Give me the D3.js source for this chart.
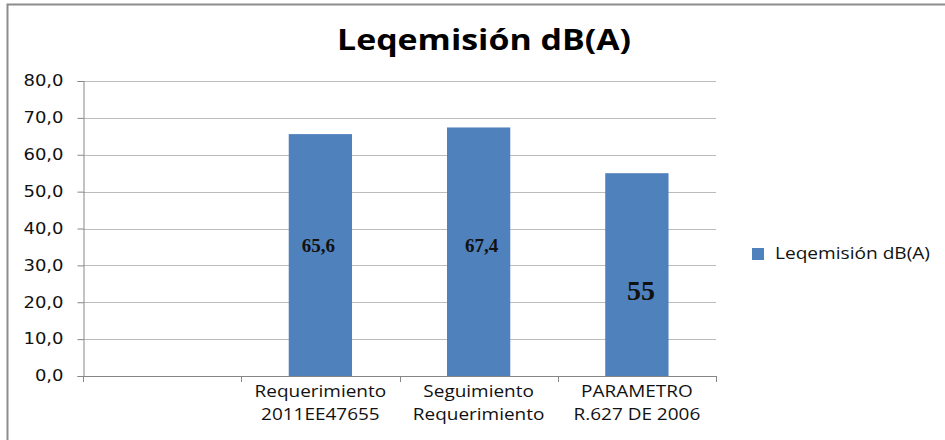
<!DOCTYPE html>
<html>
<head>
<meta charset="utf-8">
<script src="https://cdn.jsdelivr.net/npm/d3@7"></script>
<style>
  body { margin: 0; background: #fff; }
  svg { display: block; }
</style>
</head>
<body>
<script>
var width = 945,
  height = 440;

// data
const categorias = ["", "Requerimiento\n2011EE47655", "Seguimiento\nRequerimiento", "PARAMETRO\nR.627 DE 2006"];
const valores = [null, 65.6, 67.4, 55];
const etiquetas = ["", "65,6", "67,4", "55"];
const ticksY = [0, 10, 20, 30, 40, 50, 60, 70, 80];
const serie = "Leqemisión dB(A)";

const svg = d3
  .select("body")
  .append("svg")
  .attr("width", width)
  .attr("height", height);

// the original picture is a bit stretched sideways
function estirar(sel, k) {
  sel.each(function () {
    const w = this.getComputedTextLength();
    d3.select(this).attr("textLength", w * k).attr("lengthAdjust", "spacingAndGlyphs");
  });
}

// marco del gráfico (se sale por la derecha y abajo)
svg.append("rect")
  .attr("x", 7.5).attr("y", 4.5)
  .attr("width", 960).attr("height", 460)
  .attr("fill", "#fff")
  .attr("stroke", "#8c8c8c")
  .attr("stroke-width", 2);

const plot = { left: 83, right: 716, top: 81, bottom: 376 };

const y = d3.scaleLinear().domain([0, 80]).range([plot.bottom, plot.top]);
const xCat = d3.scaleBand().domain(d3.range(categorias.length)).range([plot.left, plot.right]);
const xBar = d3.scaleBand().domain(d3.range(categorias.length)).range([plot.left, plot.right])
  .paddingInner(0.6).paddingOuter(0.3);

// gridlines
svg.append("g")
  .selectAll("line")
  .data(ticksY.slice(1))
  .enter()
  .append("line")
  .attr("x1", plot.left).attr("x2", plot.right)
  .attr("y1", d => Math.round(y(d)) + 0.5).attr("y2", d => Math.round(y(d)) + 0.5)
  .attr("stroke", "#bcbcbc");

// eje Y
const yAxis = svg.append("g")
  .attr("transform", `translate(${plot.left + 0.5},0)`)
  .call(d3.axisLeft(y).tickValues(ticksY).tickSize(6).tickPadding(14)
    .tickFormat(d => d3.format(".1f")(d).replace(".", ",")));
yAxis.select(".domain").attr("stroke", "#868686");
yAxis.selectAll(".tick line").attr("stroke", "#868686");
yAxis.selectAll(".tick text")
  .attr("font-family", "DejaVu Sans")
  .attr("font-size", 15)
  .attr("fill", "#111");
estirar(yAxis.selectAll(".tick text"), 1.2);

// barras
svg.append("g")
  .selectAll("rect")
  .data(valores.map((v, i) => ({ v, i })).filter(d => d.v != null))
  .enter()
  .append("rect")
  .attr("x", d => xBar(d.i))
  .attr("width", xBar.bandwidth())
  .attr("y", d => y(d.v))
  .attr("height", d => y(0) - y(d.v))
  .attr("fill", "#4f81bd");

// eje X
const xg = svg.append("g");
xg.append("line")
  .attr("x1", plot.left).attr("x2", plot.right)
  .attr("y1", plot.bottom + 0.5).attr("y2", plot.bottom + 0.5)
  .attr("stroke", "#868686");
xg.selectAll(".tk")
  .data(d3.range(categorias.length + 1))
  .enter()
  .append("line")
  .attr("class", "tk")
  .attr("x1", i => Math.round(plot.left + i * xCat.step()) + 0.5)
  .attr("x2", i => Math.round(plot.left + i * xCat.step()) + 0.5)
  .attr("y1", plot.bottom).attr("y2", plot.bottom + 6)
  .attr("stroke", "#868686");

const catText = xg.selectAll(".cat")
  .data(categorias)
  .enter()
  .append("text")
  .attr("class", "cat")
  .attr("font-family", "Open Sans")
  .attr("font-size", 16.5)
  .attr("fill", "#111")
  .attr("text-anchor", "middle")
  .attr("transform", (d, i) => `translate(${xCat(i) + xCat.bandwidth() / 2},0) scale(1.15,1)`);
catText.selectAll("tspan")
  .data(d => d.split("\n"))
  .enter()
  .append("tspan")
  .attr("x", 0)
  .attr("y", (d, j) => 397 + j * 23)
  .text(d => d);

// etiquetas dentro de las barras
const nivelEtiqueta = [0, 35.5, 35.5, 23.3];
const tamEtiqueta = [0, 19, 19, 28];
const desplEtiqueta = [0, -2, 3, 4];
svg.append("g")
  .selectAll("text")
  .data(etiquetas.map((t, i) => ({ t, i })).filter(d => d.t))
  .enter()
  .append("text")
  .attr("x", d => xBar(d.i) + xBar.bandwidth() / 2 + desplEtiqueta[d.i])
  .attr("y", d => y(nivelEtiqueta[d.i]))
  .attr("dy", "0.35em")
  .attr("text-anchor", "middle")
  .attr("font-family", "Liberation Serif")
  .attr("font-weight", "bold")
  .attr("font-size", d => tamEtiqueta[d.i])
  .attr("fill", "#111")
  .text(d => d.t);

// título
svg.append("text")
  .attr("x", 484)
  .attr("y", 50)
  .attr("text-anchor", "middle")
  .attr("font-family", "Open Sans")
  .attr("font-weight", "bold")
  .attr("font-size", 28)
  .attr("textLength", 294)
  .attr("lengthAdjust", "spacingAndGlyphs")
  .text(serie);

// leyenda
const leg = svg.append("g");
leg.append("rect")
  .attr("x", 752).attr("y", 248)
  .attr("width", 12).attr("height", 12)
  .attr("fill", "#4f81bd");
leg.append("text")
  .attr("x", 775).attr("y", 259)
  .attr("font-family", "Open Sans")
  .attr("font-size", 16)
  .attr("fill", "#111")
  .attr("textLength", 155)
  .attr("lengthAdjust", "spacingAndGlyphs")
  .text(serie);
</script>
</body>
</html>
